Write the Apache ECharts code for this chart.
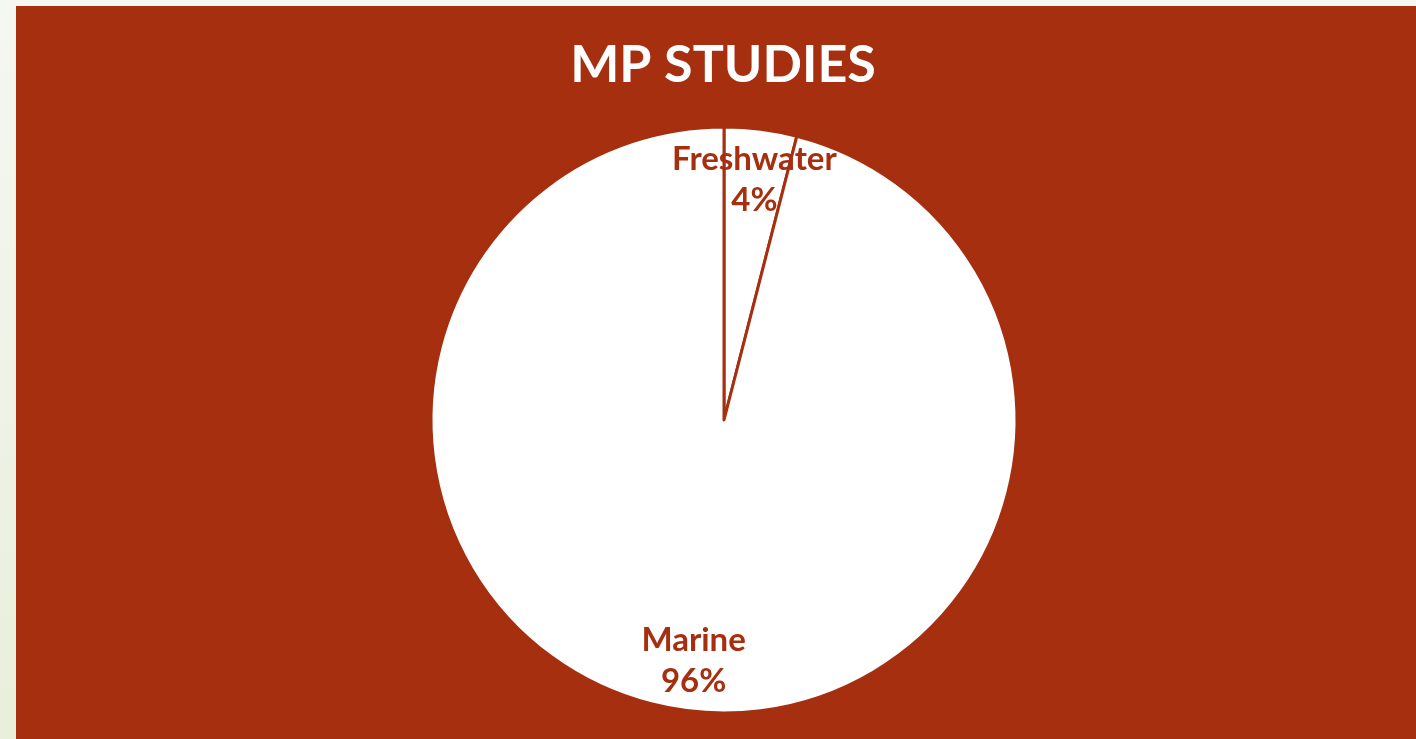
<!DOCTYPE html>
<html>
<head>
<meta charset="utf-8">
<script src="https://cdn.jsdelivr.net/npm/echarts@6/dist/echarts.min.js"></script>
<style>
html,body{margin:0;padding:0;width:1416px;height:739px;overflow:hidden;
background:linear-gradient(180deg,#f5f7f1 0%,#eef3e6 50%,#e8efda 100%);}
#frame{position:absolute;left:16px;top:6px;width:1400px;height:733px;background:#a52f0f;}
#chart{position:absolute;left:0;top:0;width:1416px;height:739px;}
</style>
</head>
<body>
<div id="frame"></div>
<div id="chart"></div>
<script>
const titleText = "MP STUDIES";
const categories = ["Freshwater", "Marine"];
const values = [4, 96];

const RED = "#a52f0f";
const data = categories.map((c, i) => ({ name: c, value: values[i] }));
const chart = echarts.init(document.getElementById('chart'), null, { renderer: 'canvas' });
chart.setOption({
  backgroundColor: 'transparent',
  animation: false,
  title: {
    text: titleText,
    left: 718, top: 34, textAlign: 'center',
    textStyle: { color: '#ffffff', fontFamily: 'Lato', fontWeight: 'bold', fontSize: 52 }
  },
  series: [
    {
      type: 'pie', center: [724, 420], radius: [0, 293],
      startAngle: 90, clockwise: true, silent: true,
      data: data,
      itemStyle: { color: '#ffffff', borderColor: RED, borderWidth: 3 },
      label: { show: false }, labelLine: { show: false }
    },
    {
      type: 'pie', center: [724, 420], radius: [186, 293],
      startAngle: 90, clockwise: true, silent: true,
      data: data,
      itemStyle: { color: 'rgba(0,0,0,0)', borderWidth: 0 },
      label: {
        show: true, position: 'inside',
        formatter: p => p.name + '\n' + p.percent.toFixed(0) + '%',
        color: RED, fontFamily: 'Lato', fontWeight: 'bold', fontSize: 33, lineHeight: 41
      },
      labelLine: { show: false }
    }
  ]
});
</script>
</body>
</html>
